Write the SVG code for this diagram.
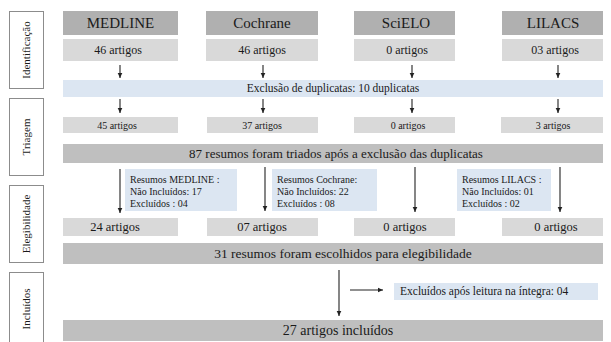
<svg xmlns="http://www.w3.org/2000/svg" width="611" height="342" viewBox="0 0 611 342" font-family="'Liberation Serif', 'DejaVu Serif', serif">
<style>
text{font-family:'Liberation Serif','Times New Roman','DejaVu Serif',serif;fill:#1a1a1a}
.lbl{fill:#fff;stroke:#8c8c8c;stroke-width:1}
.lt{font-size:11px;text-anchor:middle}
.hdr{fill:#b0b0b0}
.ht{font-size:15px;text-anchor:middle}
.lg{fill:#d9d9d9}
.t12{font-size:12px;text-anchor:middle}
.t10{font-size:10px;text-anchor:middle}
.t125{font-size:12.5px;text-anchor:middle}
.blue{fill:#dce6f2}
.band{fill:#bfbfbf}
.bt{font-size:13px;text-anchor:middle}
.nt{font-size:10px}
.con line{stroke:#222;stroke-width:1.1;marker-end:url(#ah)}
</style>
<defs>
<marker id="ah" markerUnits="userSpaceOnUse" markerWidth="6" markerHeight="7" refX="5" refY="3" orient="auto">
<path d="M0,0.7 L5,3 L0,5.3 Z" fill="#222"/>
</marker>
</defs>
<rect width="611" height="342" fill="#fff"/>

<g id="stage-identificacao"><rect class="lbl" x="9.5" y="11.5" width="34" height="77"/><text class="lt" transform="translate(30,50) rotate(-90)">Identificação</text></g>
<g id="stage-triagem"><rect class="lbl" x="9.5" y="98.5" width="34" height="77"/><text class="lt" transform="translate(30,137) rotate(-90)">Triagem</text></g>
<g id="stage-elegibilidade"><rect class="lbl" x="9.5" y="185.5" width="34" height="77"/><text class="lt" transform="translate(30,224) rotate(-90)">Elegibilidade</text></g>
<g id="stage-incluidos"><rect class="lbl" x="9.5" y="272.5" width="34" height="76"/><text class="lt" transform="translate(30,309) rotate(-90)">Incluídos</text></g>

<g id="db-medline"><rect class="hdr" x="63" y="11" width="115" height="24"/><text class="ht" x="120.5" y="28">MEDLINE</text></g>
<g id="db-cochrane"><rect class="hdr" x="206" y="11" width="112" height="24"/><text class="ht" x="262" y="28">Cochrane</text></g>
<g id="db-scielo"><rect class="hdr" x="354" y="11" width="101" height="24"/><text class="ht" x="406" y="28">SciELO</text></g>
<g id="db-lilacs"><rect class="hdr" x="502" y="11" width="101" height="24"/><text class="ht" x="553" y="28">LILACS</text></g>

<g id="id-medline"><rect class="lg" x="63" y="39" width="115" height="22"/><text class="t12" x="118" y="54">46 artigos</text></g>
<g id="id-cochrane"><rect class="lg" x="206" y="39" width="112" height="22"/><text class="t12" x="262" y="54">46 artigos</text></g>
<g id="id-scielo"><rect class="lg" x="354" y="39" width="101" height="22"/><text class="t12" x="407" y="54">0 artigos</text></g>
<g id="id-lilacs"><rect class="lg" x="502" y="39" width="101" height="22"/><text class="t12" x="555" y="54">03 artigos</text></g>

<g id="duplicatas"><rect class="blue" x="63" y="80" width="540" height="17"/><text style="font-size:11.5px;text-anchor:middle" x="333" y="92">Exclusão de duplicatas: 10 duplicatas</text></g>

<g id="tr-medline"><rect class="lg" x="63" y="117" width="115" height="16"/><text class="t10" x="117" y="129">45 artigos</text></g>
<g id="tr-cochrane"><rect class="lg" x="207" y="117" width="111" height="16"/><text class="t10" x="262" y="129">37 artigos</text></g>
<g id="tr-scielo"><rect class="lg" x="354" y="117" width="101" height="16"/><text class="t10" x="408" y="129">0 artigos</text></g>
<g id="tr-lilacs"><rect class="lg" x="501" y="117" width="102" height="16"/><text class="t10" x="553" y="129">3 artigos</text></g>

<g id="triados"><rect class="band" x="63" y="144" width="540" height="19"/><text class="bt" x="336" y="158">87 resumos foram triados após a exclusão das duplicatas</text></g>

<g id="ex-medline"><rect class="blue" x="125" y="169" width="112" height="42"/><text class="nt" x="130" y="183">Resumos MEDLINE :</text><text class="nt" x="130" y="195">Não Incluídos: 17</text><text class="nt" x="130" y="207">Excluídos : 04</text></g>
<g id="ex-cochrane"><rect class="blue" x="272" y="169" width="105" height="42"/><text class="nt" x="277" y="183">Resumos Cochrane:</text><text class="nt" x="277" y="195">Não Incluídos: 22</text><text class="nt" x="277" y="207">Excluídos : 08</text></g>
<g id="ex-lilacs"><rect class="blue" x="457" y="169" width="94" height="42"/><text class="nt" x="462" y="183">Resumos LILACS :</text><text class="nt" x="462" y="195">Não Incluídos: 01</text><text class="nt" x="462" y="207">Excluídos : 02</text></g>

<g id="el-medline"><rect class="lg" x="63" y="218" width="115" height="18"/><text class="t125" x="115" y="231">24 artigos</text></g>
<g id="el-cochrane"><rect class="lg" x="207" y="218" width="111" height="18"/><text class="t125" x="262" y="231">07 artigos</text></g>
<g id="el-scielo"><rect class="lg" x="354" y="218" width="101" height="18"/><text class="t125" x="405" y="231">0 artigos</text></g>
<g id="el-lilacs"><rect class="lg" x="502" y="218" width="101" height="18"/><text class="t125" x="556" y="231">0 artigos</text></g>

<g id="escolhidos"><rect class="band" x="63" y="243" width="540" height="21"/><text class="bt" style="font-size:13.5px" x="343" y="258">31 resumos foram escolhidos para elegibilidade</text></g>

<g id="ex-integra"><rect class="blue" x="394" y="283" width="204" height="17"/><text style="font-size:11.5px" x="400" y="295">Excluídos após leitura na íntegra: 04</text></g>

<g id="incluidos"><rect class="band" x="63" y="320" width="540" height="21"/><text class="bt" style="font-size:14px" x="338" y="335">27 artigos incluídos</text></g>

<g id="connectors" class="con">
<line x1="120" y1="65" x2="120" y2="78"/>
<line x1="263" y1="65" x2="263" y2="78"/>
<line x1="412" y1="65" x2="412" y2="78"/>
<line x1="558" y1="65" x2="558" y2="78"/>
<line x1="120" y1="99" x2="120" y2="113"/>
<line x1="263" y1="99" x2="263" y2="113"/>
<line x1="412" y1="99" x2="412" y2="113"/>
<line x1="558" y1="99" x2="558" y2="113"/>
<line x1="120" y1="169" x2="120" y2="213"/>
<line x1="265" y1="167" x2="265" y2="211"/>
<line x1="415" y1="167" x2="415" y2="212"/>
<line x1="560" y1="167" x2="560" y2="212"/>
<line x1="339" y1="270" x2="339" y2="316"/>
<line x1="350" y1="290" x2="383" y2="290"/>
</g>
</svg>
